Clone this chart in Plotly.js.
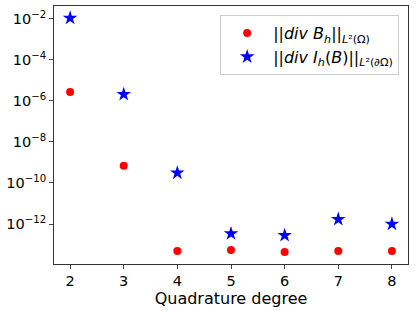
<!DOCTYPE html>
<html>
<head>
<meta charset="utf-8">
<script src="https://cdn.plot.ly/plotly-3.0.1.min.js"></script>
<style>html,body{margin:0;padding:0;background:#fff;}#chart{width:415px;height:311px;}</style>
</head>
<body>
<div id="chart"></div>
<script>
const degrees = [2, 3, 4, 5, 6, 7, 8];
const divBh = [2.75e-6, 7e-10, 4.8e-14, 5.4e-14, 4.3e-14, 4.8e-14, 4.8e-14];
const divIhB = [1.1e-2, 2.1e-6, 3.1e-10, 3.4e-13, 2.8e-13, 1.7e-12, 1.0e-12];
const yTickVals = [1e-12, 1e-10, 1e-8, 1e-6, 1e-4, 1e-2];
const yTickText = ['10<sup>−12</sup>', '10<sup>−10</sup>', '10<sup>−8</sup>', '10<sup>−6</sup>', '10<sup>−4</sup>', '10<sup>−2</sup>'];
const nameB = '||<i>div B</i><sub><i>h</i></sub>||<sub><i>L</i>²(Ω)</sub>';
const nameI = '||<i>div I</i><sub><i>h</i></sub>(<i>B</i>)||<sub><i>L</i>²(∂Ω)</sub>';

const traces = [
  {x: degrees, y: divBh, mode: 'markers', type: 'scatter', name: nameB,
   marker: {color: 'red', size: 8, symbol: 'circle'}},
  {x: degrees, y: divIhB, mode: 'markers', type: 'scatter', name: nameI,
   marker: {color: 'blue', size: 11, symbol: 'star'}}
];
const font = {family: 'DejaVu Sans', size: 14.5, color: '#000'};
const layout = {
  width: 415, height: 311,
  margin: {l: 54, r: 7, t: 6, b: 47},
  paper_bgcolor: '#fff', plot_bgcolor: '#fff',
  font: font,
  showlegend: true,
  legend: {x: 0.975, y: 0.965, xanchor: 'right', yanchor: 'top',
           bgcolor: '#fff', bordercolor: '#ccc', borderwidth: 1,
           tracegroupgap: 4, itemwidth: 42,
           font: {family: 'DejaVu Sans', size: 16, color: '#000'}},
  xaxis: {range: [1.7, 8.3], tickvals: degrees, ticks: 'outside', ticklen: 4,
          showgrid: false, zeroline: false, showline: true, mirror: true,
          linecolor: '#333', linewidth: 1, tickfont: font,
          title: {text: 'Quadrature degree', font: {family: 'DejaVu Sans', size: 16, color: '#000'}, standoff: 2}},
  yaxis: {type: 'log', range: [-13.95, -1.37], tickvals: yTickVals, ticktext: yTickText,
          ticks: 'outside', ticklen: 4, showgrid: false, zeroline: false,
          showline: true, mirror: true, linecolor: '#333', linewidth: 1, tickfont: font}
};
Plotly.newPlot('chart', traces, layout, {staticPlot: true});
</script>
</body>
</html>
